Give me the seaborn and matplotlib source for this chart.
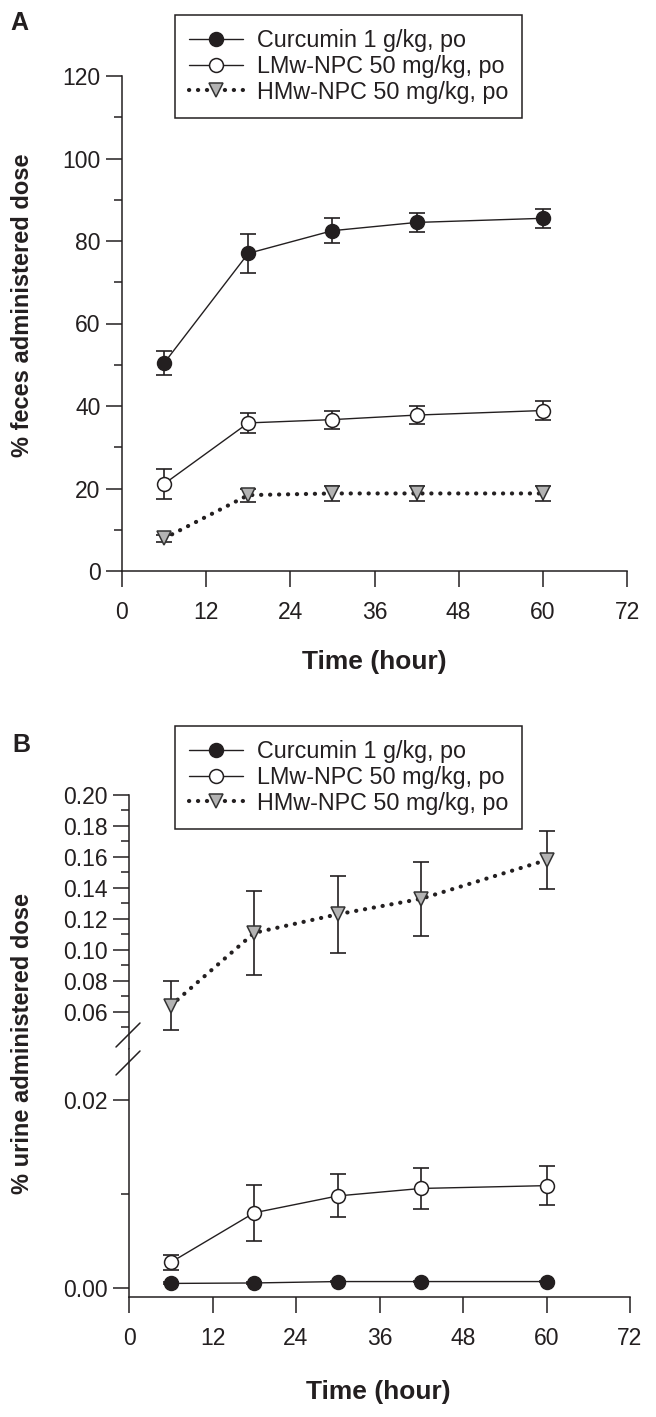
import matplotlib
matplotlib.use("Agg")
import matplotlib.pyplot as plt
from matplotlib.lines import Line2D
import seaborn as sns

sns.set_style("ticks")
plt.rcParams['font.family'] = ['Liberation Sans', 'DejaVu Sans']

INK = '#231f20'
W, H = 656, 1417

# time points (hour)
time_h = [6, 18, 30, 42, 60]

# panel A - feces (% of administered dose)
feces_cur = [50.4, 77.0, 82.5, 84.5, 85.5]
feces_cur_err = [2.9, 4.7, 3.0, 2.2, 2.3]
feces_lmw = [21.1, 35.9, 36.7, 37.8, 38.9]
feces_lmw_err = [3.6, 2.5, 2.2, 2.2, 2.2]
feces_hmw = [7.9, 18.4, 18.8, 18.8, 18.8]
feces_hmw_err = [0.9, 1.6, 1.9, 1.9, 1.9]

# panel B - urine (% of administered dose)
urine_cur = [0.00045, 0.0005, 0.00065, 0.00065, 0.00065]
urine_cur_err = [0.0001, 0.0001, 0.0001, 0.0001, 0.0001]
urine_lmw = [0.0027, 0.0080, 0.0098, 0.0106, 0.0109]
urine_lmw_err = [0.0008, 0.0030, 0.0023, 0.0022, 0.0021]
urine_hmw = [0.064, 0.111, 0.123, 0.133, 0.158]
urine_hmw_err = [0.016, 0.027, 0.025, 0.024, 0.019]

labels = ['Curcumin 1 g/kg, po', 'LMw-NPC 50 mg/kg, po', 'HMw-NPC 50 mg/kg, po']
x_ticks = [0, 12, 24, 36, 48, 60, 72]

styles = [
    dict(marker='o', markersize=10, markerfacecolor=INK, markeredgecolor=INK,
         linestyle='-', linewidth=1.0),
    dict(marker='o', markersize=10, markerfacecolor='white', markeredgecolor=INK,
         linestyle='-', linewidth=1.0),
    dict(marker='v', markersize=10, markerfacecolor='#b3b3b3', markeredgecolor='#333333',
         linestyle=(0, (0.05, 2.1)), linewidth=3.0, dash_capstyle='round'),
]


def px_box(left, top, right, bottom):
    return [left / W, 1 - bottom / H, (right - left) / W, (bottom - top) / H]


def draw_series(ax, series):
    for (y, err), st, lab in zip(series, styles, labels):
        ax.errorbar(time_h, y, yerr=err, fmt='none', ecolor=INK, elinewidth=1.2,
                    capsize=5.6, capthick=1.2, zorder=2)
        sns.lineplot(x=time_h, y=y, ax=ax, color=INK, markeredgewidth=1.1,
                     label=lab, zorder=3, legend=False, **st)


def style_axis(ax):
    for side in ['top', 'right']:
        ax.spines[side].set_visible(False)
    for side in ['left', 'bottom']:
        ax.spines[side].set_linewidth(1.1)
        ax.spines[side].set_color(INK)
    ax.tick_params(which='major', length=11.5, width=1.1, color=INK, labelsize=16.5,
                   labelcolor=INK, pad=4)
    ax.tick_params(which='minor', length=5.5, width=1.1, color=INK)
    ax.tick_params(axis='x', which='major', pad=10)


def add_legend(ax, top_px):
    handles = [Line2D([], [], color=INK, markeredgewidth=1.1, **st) for st in styles]
    leg = ax.legend(handles=handles, labels=labels, loc='upper left',
                    bbox_to_anchor=(175 / W, 1 - top_px / H), bbox_transform=fig.transFigure,
                    fontsize=16.8, frameon=True, fancybox=False, edgecolor=INK, framealpha=1,
                    handlelength=2.3, labelspacing=0.12, borderpad=0.6, handletextpad=0.6,
                    borderaxespad=0)
    leg.get_frame().set_linewidth(1.1)
    for t in leg.get_texts():
        t.set_color(INK)


fig = plt.figure(figsize=(W / 100, H / 100), dpi=100)

# ---- panel A ----
axA = fig.add_axes(px_box(122, 76, 627, 571))
draw_series(axA, [(feces_cur, feces_cur_err), (feces_lmw, feces_lmw_err),
                  (feces_hmw, feces_hmw_err)])
axA.set_xlim(0, 72)
axA.set_ylim(0, 120)
axA.set_xticks(x_ticks)
axA.set_yticks(range(0, 121, 20))
axA.set_yticks(range(10, 120, 20), minor=True)
style_axis(axA)
axA.set_xlabel('')
axA.set_ylabel('')
add_legend(axA, 15)
fig.text(374 / W, 1 - 662 / H, 'Time (hour)', fontsize=19, fontweight='bold', color=INK,
         ha='center', va='center')
fig.text(23 / W, 1 - 305 / H, '% feces administered dose', fontsize=17,
         fontweight='bold', color=INK, rotation=90, ha='center', va='center')
fig.text(10 / W, 1 - 23 / H, 'A', fontsize=18, fontweight='bold', color=INK, va='center')

# ---- panel B (broken y axis) ----
split = 1049
axBt = fig.add_axes(px_box(129, 795, 630, split))
axBb = fig.add_axes(px_box(129, split, 630, 1297))
for ax in (axBt, axBb):
    draw_series(ax, [(urine_cur, urine_cur_err), (urine_lmw, urine_lmw_err),
                     (urine_hmw, urine_hmw_err)])
    ax.set_xlim(0, 72)
    style_axis(ax)
    ax.set_xlabel('')
    ax.set_ylabel('')

axBt.set_ylim(0.036, 0.20)
axBt.set_yticks([0.06, 0.08, 0.10, 0.12, 0.14, 0.16, 0.18, 0.20])
axBt.set_yticks([0.05, 0.07, 0.09, 0.11, 0.13, 0.15, 0.17, 0.19], minor=True)
axBt.set_yticklabels([f'{v:.2f}' for v in axBt.get_yticks()])
axBt.spines['bottom'].set_visible(False)
axBt.tick_params(axis='x', which='both', bottom=False, labelbottom=False)

axBb.set_ylim(-0.001, 0.0255)
axBb.set_yticks([0.0, 0.02])
axBb.set_yticks([0.01], minor=True)
axBb.set_yticklabels(['0.00', '0.02'])
axBb.set_xticks(x_ticks)

add_legend(axBt, 726)
fig.text(378 / W, 1 - 1392 / H, 'Time (hour)', fontsize=19, fontweight='bold', color=INK,
         ha='center', va='center')
fig.text(23 / W, 1 - 1043 / H, '% urine administered dose', fontsize=17,
         fontweight='bold', color=INK, rotation=90, ha='center', va='center')
fig.text(12 / W, 1 - 745 / H, 'B', fontsize=18, fontweight='bold', color=INK, va='center')

# break marks on the y axis
for yc in (split - 14, split + 14):
    fig.add_artist(Line2D([(129 - 13) / W, (129 + 11) / W],
                          [1 - (yc + 12) / H, 1 - (yc - 12) / H],
                          color=INK, linewidth=1.1, transform=fig.transFigure))

fig.savefig('out.png', dpi=100)
